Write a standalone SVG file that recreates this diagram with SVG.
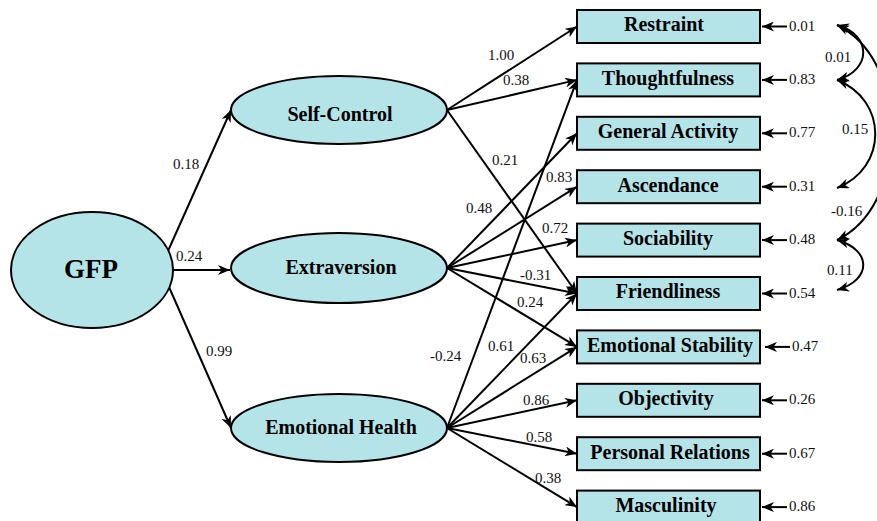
<svg xmlns="http://www.w3.org/2000/svg" width="877" height="521" viewBox="0 0 877 521">
<defs>
<marker id="ah" viewBox="0 0 12 10" refX="12" refY="5" markerWidth="12" markerHeight="10" markerUnits="userSpaceOnUse" orient="auto-start-reverse">
<path d="M0,0 L12,5 L0,10 L3.5,5 z" fill="#000"/>
</marker>
<style>
.lat{fill:#b4e4e8;stroke:#000;stroke-width:2}
.box{fill:#b4e4e8;stroke:#000;stroke-width:2}
.nt{font-family:"Liberation Serif","Times New Roman",serif;font-weight:bold;font-size:20px;fill:#000;text-anchor:middle}
.lb{font-family:"Liberation Serif","Times New Roman",serif;font-size:15px;fill:#111}
.ed{fill:none;stroke:#000;stroke-width:2;marker-end:url(#ah)}
.cv{fill:none;stroke:#000;stroke-width:2;marker-start:url(#ah);marker-end:url(#ah)}
</style>
</defs>
<rect width="877" height="521" fill="#fff"/>

<g id="connectors">
<!-- GFP paths -->
<line class="ed" x1="168" y1="251" x2="231" y2="110"/>
<line class="ed" x1="173" y1="270" x2="230" y2="270"/>
<line class="ed" x1="169" y1="287" x2="231" y2="428"/>
<!-- Self-Control -->
<line class="ed" x1="447" y1="110" x2="577" y2="26.5"/>
<line class="ed" x1="447" y1="110" x2="577" y2="79.9"/>
<line class="ed" x1="447" y1="110" x2="577" y2="293.5"/>
<!-- Extraversion -->
<line class="ed" x1="447" y1="268" x2="577" y2="133.3"/>
<line class="ed" x1="447" y1="268" x2="577" y2="186.7"/>
<line class="ed" x1="447" y1="268" x2="577" y2="240.1"/>
<line class="ed" x1="447" y1="268" x2="577" y2="293.5"/>
<line class="ed" x1="447" y1="268" x2="577" y2="346.9"/>
<!-- Emotional Health -->
<line class="ed" x1="447" y1="428" x2="577" y2="79.9"/>
<line class="ed" x1="447" y1="428" x2="577" y2="293.5"/>
<line class="ed" x1="447" y1="428" x2="577" y2="346.9"/>
<line class="ed" x1="447" y1="428" x2="577" y2="400.3"/>
<line class="ed" x1="447" y1="428" x2="577" y2="453.7"/>
<line class="ed" x1="447" y1="428" x2="577" y2="507.1"/>
<!-- residuals -->
<line class="ed" x1="787" y1="26.5" x2="762" y2="26.5"/>
<line class="ed" x1="787" y1="79.9" x2="762" y2="79.9"/>
<line class="ed" x1="787" y1="133.3" x2="762" y2="133.3"/>
<line class="ed" x1="787" y1="186.7" x2="762" y2="186.7"/>
<line class="ed" x1="787" y1="240.1" x2="762" y2="240.1"/>
<line class="ed" x1="787" y1="293.5" x2="762" y2="293.5"/>
<line class="ed" x1="790" y1="346.9" x2="765" y2="346.9"/>
<line class="ed" x1="787" y1="400.3" x2="762" y2="400.3"/>
<line class="ed" x1="787" y1="453.7" x2="762" y2="453.7"/>
<line class="ed" x1="787" y1="507.1" x2="762" y2="507.1"/>
<!-- correlations -->
<path class="cv" d="M837,25 C872,35 872,70 837,80"/>
<path class="cv" d="M837,80 C888,100 888,168 837,188"/>
<path class="cv" d="M837,25 C910,60 910,205 837,240"/>
<path class="cv" d="M837,240 C872,250 872,280 837,290"/>
<!-- path labels -->
<text class="lb" x="173" y="169">0.18</text>
<text class="lb" x="176" y="261">0.24</text>
<text class="lb" x="206" y="356">0.99</text>
<text class="lb" x="488" y="60">1.00</text>
<text class="lb" x="503" y="85">0.38</text>
<text class="lb" x="492" y="165">0.21</text>
<text class="lb" x="546" y="182">0.83</text>
<text class="lb" x="466" y="213">0.48</text>
<text class="lb" x="542" y="233">0.72</text>
<text class="lb" x="520" y="280">-0.31</text>
<text class="lb" x="517" y="307">0.24</text>
<text class="lb" x="488" y="351">0.61</text>
<text class="lb" x="520" y="363">0.63</text>
<text class="lb" x="430" y="361">-0.24</text>
<text class="lb" x="523" y="405">0.86</text>
<text class="lb" x="526" y="442">0.58</text>
<text class="lb" x="535" y="483">0.38</text>
<!-- residual labels -->
<text class="lb" x="789" y="31">0.01</text>
<text class="lb" x="789" y="84">0.83</text>
<text class="lb" x="789" y="137">0.77</text>
<text class="lb" x="789" y="191">0.31</text>
<text class="lb" x="789" y="244">0.48</text>
<text class="lb" x="789" y="298">0.54</text>
<text class="lb" x="792" y="351">0.47</text>
<text class="lb" x="789" y="404">0.26</text>
<text class="lb" x="789" y="458">0.67</text>
<text class="lb" x="789" y="511">0.86</text>
<!-- correlation labels -->
<text class="lb" x="825" y="62">0.01</text>
<text class="lb" x="842" y="134">0.15</text>
<text class="lb" x="831" y="216">-0.16</text>
<text class="lb" x="827" y="275">0.11</text>
</g>

<g id="GFP">
<ellipse class="lat" cx="92" cy="270" rx="81" ry="58"/>
<text class="nt" x="91" y="278" style="font-size:27px">GFP</text>
</g>
<g id="SelfControl">
<ellipse class="lat" cx="339" cy="110" rx="108" ry="34"/>
<text class="nt" x="340" y="121">Self-Control</text>
</g>
<g id="Extraversion">
<ellipse class="lat" cx="339" cy="268" rx="108" ry="35"/>
<text class="nt" x="341" y="274">Extraversion</text>
</g>
<g id="EmotionalHealth">
<ellipse class="lat" cx="339" cy="428" rx="108" ry="34"/>
<text class="nt" x="341" y="434">Emotional Health</text>
</g>

<g id="Restraint"><rect class="box" x="577" y="10" width="183" height="33"/><text class="nt" x="664" y="31">Restraint</text></g>
<g id="Thoughtfulness"><rect class="box" x="577" y="63.4" width="183" height="33"/><text class="nt" x="668" y="84.5">Thoughtfulness</text></g>
<g id="GeneralActivity"><rect class="box" x="577" y="116.8" width="183" height="33"/><text class="nt" x="668" y="138">General Activity</text></g>
<g id="Ascendance"><rect class="box" x="577" y="170.2" width="183" height="33"/><text class="nt" x="668" y="191.5">Ascendance</text></g>
<g id="Sociability"><rect class="box" x="577" y="223.6" width="183" height="33"/><text class="nt" x="668" y="245">Sociability</text></g>
<g id="Friendliness"><rect class="box" x="577" y="277" width="183" height="33"/><text class="nt" x="668" y="298">Friendliness</text></g>
<g id="EmotionalStability"><rect class="box" x="577" y="330.4" width="183" height="33"/><text class="nt" x="670" y="351.5">Emotional Stability</text></g>
<g id="Objectivity"><rect class="box" x="577" y="383.8" width="183" height="33"/><text class="nt" x="666" y="405">Objectivity</text></g>
<g id="PersonalRelations"><rect class="box" x="577" y="437.2" width="183" height="33"/><text class="nt" x="670" y="458.5">Personal Relations</text></g>
<g id="Masculinity"><rect class="box" x="577" y="490.6" width="183" height="33"/><text class="nt" x="666" y="512">Masculinity</text></g>
</svg>
